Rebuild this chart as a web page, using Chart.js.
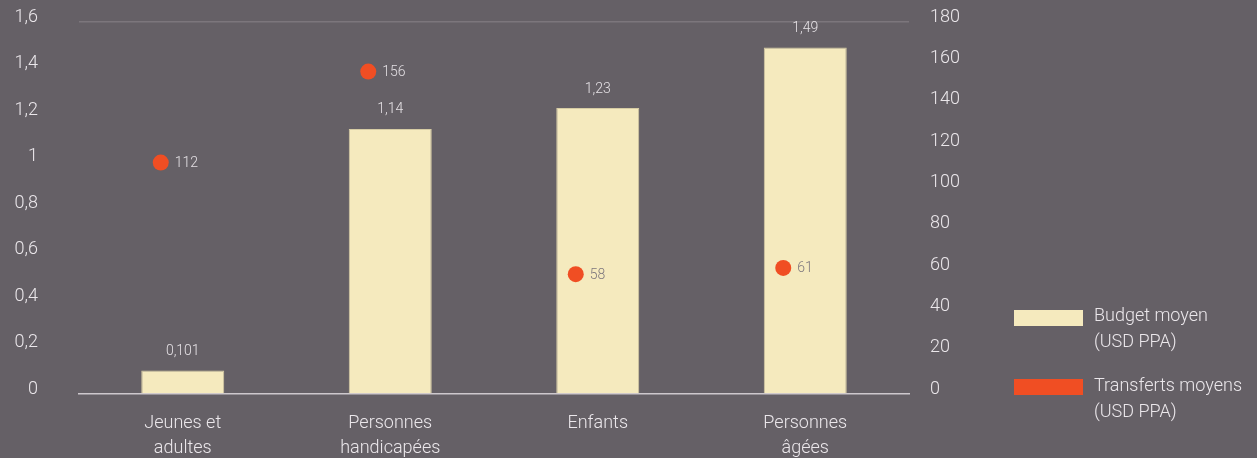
<!DOCTYPE html>
<html lang="fr">
<head>
<meta charset="utf-8">
<script src="https://cdn.jsdelivr.net/npm/chart.js@4"></script>
<style>
    html, body { margin: 0; padding: 0; background: #656066; }
    #wrap { position: relative; width: 1257px; height: 458px; }
    #chartCanvas { position: absolute; left: 0; top: 0; }
    .legend-item { position: absolute; left: 1014px; font-family: Roboto, "Open Sans", sans-serif; font-weight: 300; font-size: 18px; line-height: 26px; color: #ebe7eb; }
    .legend-box { position: absolute; left: 0; width: 69px; height: 16px; }
    .legend-text { position: absolute; left: 80px; white-space: nowrap; }
</style>
</head>
<body>
<div id="wrap">
    <canvas id="chartCanvas" width="1257" height="458"></canvas>
    <div class="legend-item" style="top: 310px;">
        <div class="legend-box" style="background: #f5eabe;"></div>
        <div class="legend-text" style="top: -8px;">Budget moyen<br>(USD PPA)</div>
    </div>
    <div class="legend-item" style="top: 379px;">
        <div class="legend-box" style="background: #f04e23;"></div>
        <div class="legend-text" style="top: -7px;">Transferts moyens<br>(USD PPA)</div>
    </div>
</div>
<script>
const categories = [['Jeunes et', 'adultes'], ['Personnes', 'handicapées'], ['Enfants'], ['Personnes', 'âgées']];
const budgetMoyen = [0.101, 1.14, 1.23, 1.49];
const transfertsMoyens = [112, 156, 58, 61];
const leftTicks = [0, 0.2, 0.4, 0.6, 0.8, 1, 1.2, 1.4, 1.6];
const rightTicks = [0, 20, 40, 60, 80, 100, 120, 140, 160, 180];

const FONT = 'Roboto, "Open Sans", sans-serif';
const POINT_SHIFT = -22; // points sit a little left of the bar centre in the original

// French decimal comma
function frNumber(v) {
    return String(v).replace('.', ',');
}

// Draws value labels above bars and to the right of the points
const valueLabels = {
    id: 'valueLabels',
    beforeDatasetDraw(chart, args) {
        if (args.index === 1) {
            chart.ctx.save();
            chart.ctx.translate(POINT_SHIFT, 0);
        }
    },
    afterDatasetDraw(chart, args) {
        if (args.index === 1) {
            chart.ctx.restore();
        }
    },
    afterDatasetsDraw(chart) {
        const ctx = chart.ctx;
        ctx.save();
        ctx.font = '300 14px ' + FONT;

        chart.getDatasetMeta(0).data.forEach((bar, i) => {
            ctx.fillStyle = '#e6e2e6';
            ctx.textAlign = 'center';
            ctx.textBaseline = 'middle';
            ctx.fillText(frNumber(budgetMoyen[i]), bar.x, bar.y - 19);
        });

        chart.getDatasetMeta(1).data.forEach((pt, i) => {
            // labels inside the cream bars are grey, the others light
            const insideBar = budgetMoyen[i] > chart.scales.y.getValueForPixel(pt.y);
            ctx.fillStyle = insideBar ? '#7d777d' : '#e3dfe3';
            ctx.textAlign = 'left';
            ctx.textBaseline = 'middle';
            ctx.fillText(String(transfertsMoyens[i]), pt.x + POINT_SHIFT + 14, pt.y + 1);
        });
        ctx.restore();
    }
};

const ctx = document.getElementById('chartCanvas').getContext('2d');

new Chart(ctx, {
    type: 'bar',
    data: {
        labels: categories,
        datasets: [{
            label: 'Budget moyen (USD PPA)',
            data: budgetMoyen,
            yAxisID: 'y',
            backgroundColor: '#f5eabe',
            borderColor: '#d6cca4',
            borderWidth: 1,
            barPercentage: 0.4,
            categoryPercentage: 1,
            order: 2
        }, {
            type: 'line',
            label: 'Transferts moyens (USD PPA)',
            data: transfertsMoyens,
            yAxisID: 'y1',
            showLine: false,
            pointRadius: 8,
            pointHoverRadius: 8,
            pointBackgroundColor: '#f04e23',
            pointBorderWidth: 0,
            order: 1
        }]
    },
    options: {
        responsive: false,
        animation: false,
        layout: { padding: { top: 22, left: 0, right: 0, bottom: 0 } },
        plugins: {
            legend: { display: false },
            tooltip: { enabled: false }
        },
        scales: {
            x: {
                grid: { display: false },
                border: { display: true, color: '#cdc8cd', width: 1.5 },
                ticks: {
                    color: '#ebe7eb',
                    font: { family: FONT, size: 18, weight: 300, lineHeight: 1.4 },
                    padding: 9,
                    maxRotation: 0
                },
                afterFit(scale) { scale.height = 64; }
            },
            y: {
                position: 'left',
                min: 0,
                max: 1.6,
                afterBuildTicks(scale) { scale.ticks = leftTicks.map(v => ({ value: v })); },
                grid: {
                    drawTicks: true,
                    tickLength: 36,
                    tickColor: 'rgba(0,0,0,0)',
                    color: c => (c.tick && c.tick.value === 1.6) ? '#7c767c' : 'rgba(0,0,0,0)',
                    lineWidth: 1.5
                },
                border: { display: false },
                ticks: {
                    color: '#ebe7eb',
                    font: { family: FONT, size: 18, weight: 300 },
                    padding: 5,
                    labelOffset: -5,
                    callback: v => frNumber(v)
                },
                afterFit(scale) { scale.width = 79; }
            },
            y1: {
                position: 'right',
                min: 0,
                max: 180,
                afterBuildTicks(scale) { scale.ticks = rightTicks.map(v => ({ value: v })); },
                grid: {
                    drawOnChartArea: false,
                    drawTicks: true,
                    tickLength: 16,
                    tickColor: 'rgba(0,0,0,0)'
                },
                border: { display: false },
                ticks: {
                    color: '#ebe7eb',
                    font: { family: FONT, size: 18, weight: 300 },
                    padding: 5,
                    labelOffset: -5
                },
                afterFit(scale) { scale.width = 348; }
            }
        }
    },
    plugins: [valueLabels]
});
</script>
</body>
</html>
